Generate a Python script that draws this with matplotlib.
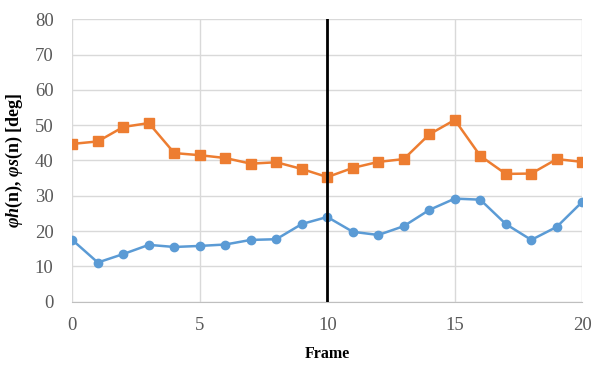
import matplotlib.pyplot as plt

plt.rcParams['font.family'] = 'Liberation Serif'
plt.rcParams['mathtext.fontset'] = 'custom'
plt.rcParams['mathtext.rm'] = 'Liberation Serif:bold'
plt.rcParams['mathtext.it'] = 'Liberation Serif:bold:italic'

frames = list(range(21))
phi_h = [17.5, 11.1, 13.5, 16.1, 15.5, 15.8, 16.2, 17.5, 17.7, 22.0, 24.0,
         19.8, 18.9, 21.4, 26.0, 29.2, 28.9, 22.0, 17.5, 21.2, 28.3]
phi_s = [44.7, 45.4, 49.5, 50.6, 42.1, 41.5, 40.7, 39.1, 39.5, 37.6, 35.3,
         37.9, 39.6, 40.4, 47.4, 51.5, 41.3, 36.2, 36.3, 40.4, 39.6]
marker_frame = 10

fig = plt.figure(figsize=(5.99, 3.66), dpi=100)
ax = fig.add_axes([0.1207, 0.1757, 0.8514, 0.7716])

ax.plot(frames, phi_h, color='#5b9bd5', marker='o', markersize=6, linewidth=1.8, zorder=3)
ax.plot(frames, phi_s, color='#ed7d31', marker='s', markersize=7.5, linewidth=1.8, zorder=3)
ax.axvline(marker_frame, color='black', linewidth=2, zorder=4)

ax.set_xlim(0, 20)
ax.set_ylim(0, 80)
ax.set_xticks([0, 5, 10, 15, 20])
ax.set_yticks(range(0, 81, 10))
ax.grid(True, color='#d9d9d9', linewidth=1)
ax.set_axisbelow(True)
for s in ['top', 'right', 'left']:
    ax.spines[s].set_visible(False)
ax.spines['bottom'].set_color('#bfbfbf')
ax.tick_params(length=0, labelsize=13.5, labelcolor='#595959')
ax.tick_params(axis='x', pad=11)
ax.tick_params(axis='y', pad=13.5)

ax.set_xlabel('Frame', fontsize=11.5, fontweight='bold', labelpad=9)
ax.set_ylabel(r'$\varphi h$(n), $\varphi s$(n) [deg]', fontsize=13, fontweight='bold', labelpad=7)

fig.savefig('out.png', dpi=100)
